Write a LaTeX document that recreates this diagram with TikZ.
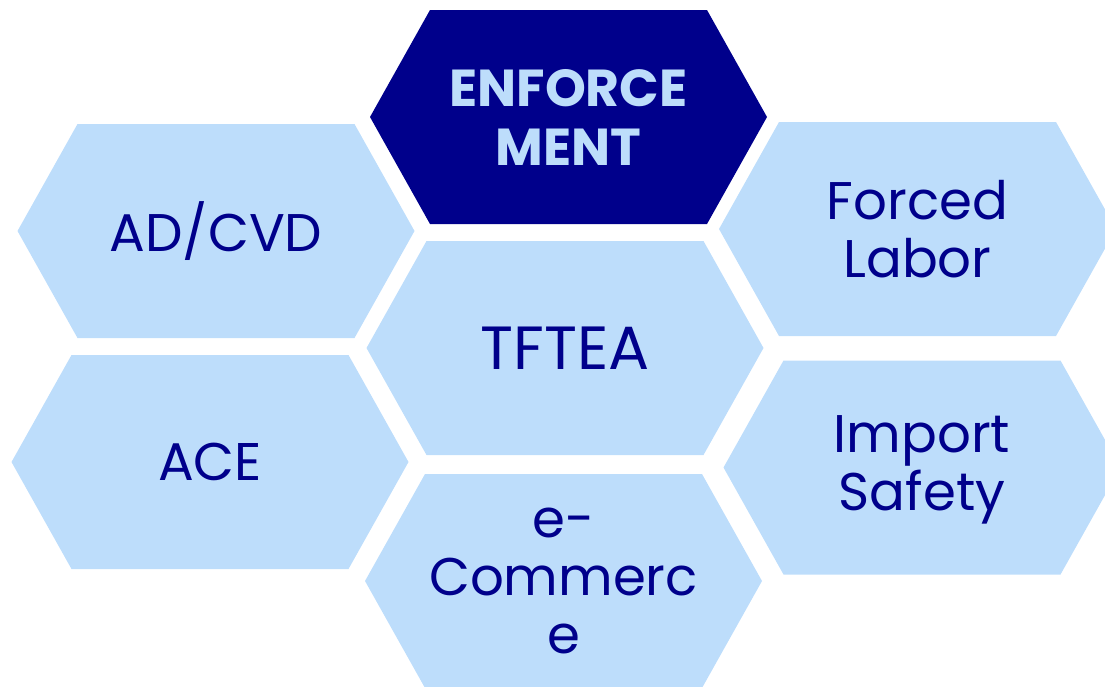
\documentclass[tikz,border=0pt]{standalone}
\usepackage{fontspec}
\setmainfont{Poppins}
\usetikzlibrary{calc}

\definecolor{navy}{RGB}{0,0,139}
\definecolor{paleblue}{RGB}{189,221,251}

\tikzset{
  cell/.style={align=center, text=navy, inner sep=0pt, font=\fontsize{53}{58}\selectfont},
  keycell/.style={cell, text=paleblue, font=\fontsize{52}{59}\selectfont\bfseries},
}

% flat-topped hexagon around a centre point
\newcommand{\hexfill}[2]{%
  \fill[#2] ($(#1)+(-198.5,0)$) -- ++(60,-107) -- ++(277,0) -- ++(60,107)
    -- ++(-60,107) -- ++(-277,0) -- cycle;}

\begin{document}
\begin{tikzpicture}[x=1pt,y=-1pt]
\path[use as bounding box] (0,0) rectangle (1105,686);
\clip (0,0) rectangle (1105,686);

%centres of the cells
\coordinate (c-enf) at (568.5,117);
\coordinate (c-ad) at (216,231);
\coordinate (c-fl) at (917.5,229);
\coordinate (c-tf) at (565,348);
\coordinate (c-ace) at (210,462);
\coordinate (c-is) at (922,467.5);
\coordinate (c-ec) at (563.5,581);

%the hexagons
\hexfill{c-enf}{navy}
\hexfill{c-ad}{paleblue}
\hexfill{c-fl}{paleblue}
\hexfill{c-tf}{paleblue}
\hexfill{c-ace}{paleblue}
\hexfill{c-is}{paleblue}
\hexfill{c-ec}{paleblue}

%the labels
\node[keycell] (enf) at (c-enf) {ENFORCE\\MENT};
\node[cell] (ad) at (c-ad) {AD/CVD};
\node[cell] (fl) at (c-fl) {Forced\\Labor};
\node[cell, font=\fontsize{61}{66}\selectfont] (tf) at (c-tf) {TFTEA};
\node[cell] (ace) at (c-ace) {ACE};
\node[cell] (is) at ($(c-is)+(0,2)$) {Import\\Safety};
\node[cell] (ec) at (c-ec) {e-\\Commerc\\e};
\end{tikzpicture}
\end{document}
